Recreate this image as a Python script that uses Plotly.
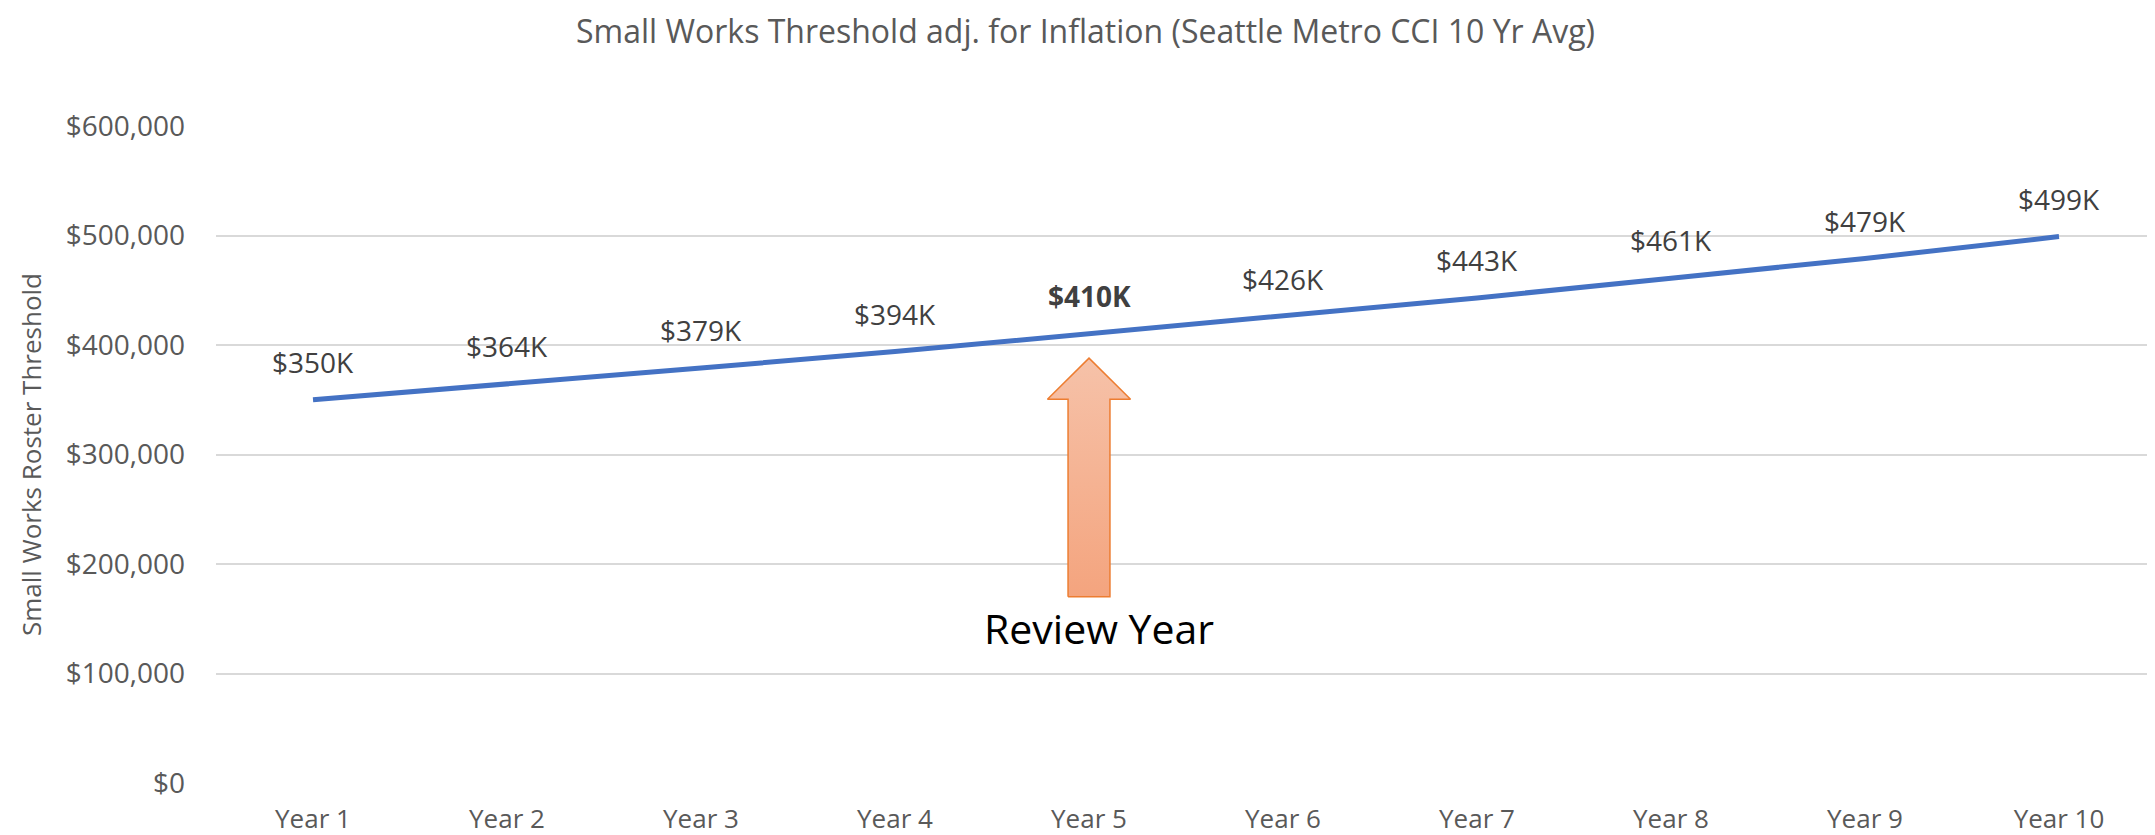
import plotly.graph_objects as go

# ---- data ----
years = ["Year 1", "Year 2", "Year 3", "Year 4", "Year 5",
         "Year 6", "Year 7", "Year 8", "Year 9", "Year 10"]
threshold = [350000, 364000, 379000, 394000, 410000,
             426000, 443000, 461000, 479000, 499000]
labels = ["$350K", "$364K", "$379K", "$394K", "$410K",
          "$426K", "$443K", "$461K", "$479K", "$499K"]
review_index = 4

title_text = "Small Works Threshold adj. for Inflation (Seattle Metro CCI 10 Yr Avg)"
ytitle_text = "Small Works Roster Threshold"

# ---- arrow annotation geometry (data units) ----
arrow_tip = 388000
arrow_head_base = 350500
arrow_bottom = 170000
head_half = 0.214
shaft_half = 0.108

FONT = "Open Sans"
x_idx = list(range(len(years)))

fig = go.Figure()

fig.add_trace(go.Scatter(
    x=x_idx, y=threshold, mode="lines",
    line=dict(color="#4472C4", width=5),
    hoverinfo="skip", showlegend=False,
))

cx = review_index
ax = [cx - shaft_half, cx - shaft_half, cx - head_half, cx,
      cx + head_half, cx + shaft_half, cx + shaft_half, cx - shaft_half]
ay = [arrow_bottom, arrow_head_base, arrow_head_base, arrow_tip,
      arrow_head_base, arrow_head_base, arrow_bottom, arrow_bottom]
fig.add_trace(go.Scatter(
    x=ax, y=ay, mode="lines", fill="toself",
    line=dict(color="#ED7D31", width=1.5),
    fillgradient=dict(type="vertical",
                      colorscale=[[0, "#F4A47E"], [1, "#F6C2A9"]]),
    hoverinfo="skip", showlegend=False,
))

for i, (v, t) in enumerate(zip(threshold, labels)):
    bold = (i == review_index)
    fig.add_annotation(
        x=i, y=v, text=f"<b>{t}</b>" if bold else t,
        showarrow=False, yshift=38, xanchor="center", yanchor="middle",
        font=dict(family=FONT, size=28, color="#404040"),
    )

fig.add_annotation(
    x=review_index, y=142000, text="Review Year", showarrow=False,
    xshift=10, xanchor="center", yanchor="middle",
    font=dict(family=FONT, size=41, color="#000000"),
)

fig.update_layout(
    width=2155, height=835,
    paper_bgcolor="white", plot_bgcolor="white",
    margin=dict(l=208, r=7, t=118, b=53),
    title=dict(text=title_text, x=0.5, xref="container", xanchor="center",
               y=1 - 24 / 835, yref="container", yanchor="middle",
               font=dict(family=FONT, size=32, color="#595959")),
    xaxis=dict(
        range=[-0.5, len(years) - 0.5], tickvals=x_idx, ticktext=years,
        showgrid=False, zeroline=False, showline=False, ticks="",
        ticklabelstandoff=18,
        tickfont=dict(family=FONT, size=26, color="#595959"),
    ),
    yaxis=dict(
        range=[0, 600000], dtick=100000, tickprefix="$", tickformat=",",
        showgrid=True, gridcolor="#D9D9D9", gridwidth=1.5,
        zeroline=False, showline=False, ticks="",
        ticklabelstandoff=30,
        tickfont=dict(family=FONT, size=28, color="#595959"),
        title=dict(text=ytitle_text, standoff=16,
                   font=dict(family=FONT, size=26, color="#595959")),
    ),
)

fig.write_html("out.html")
